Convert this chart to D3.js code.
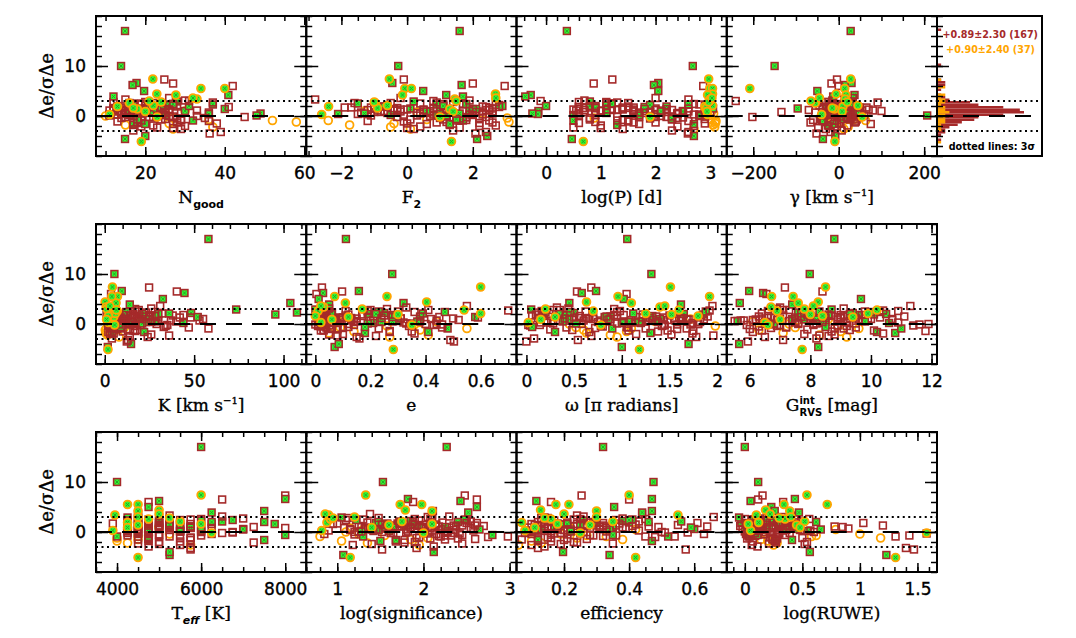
<!DOCTYPE html>
<html><head><meta charset="utf-8">
<script src="https://cdn.jsdelivr.net/npm/d3@7"></script>
<style>body{margin:0;background:#fff}svg{display:block}text{white-space:pre}</style>
</head><body>
<svg id="c" width="1076" height="638"></svg>
<script>
// ---------------- DATA ----------------
// Star order: 18 outliers | 96 sample-A (brown) cluster | 24 sample-B (orange) cluster | 36 more sample-A cluster
const yOutliers = [17.0,10.0,7.4,7.3,6.5,6.6,6.2,6.0,5.5,5.5,5.0,4.4,4.2,4.2,-4.6,-4.0,-5.1,-3.5];
const sampleOutliers = ["A","A","B","A","A","A","A","A","B","B","A","B","B","A","A","A","B","A"];
const flagOutliers = [1,1,1,0,0,1,1,0,1,1,1,1,1,1,1,1,1,0];
const yBrown = [1.2,0.5,-0.3,1.8,0.9,2.4,-1.1,0.2,1.5,0.7,
 -0.6,2.9,1.1,0.4,-1.8,1.6,0.0,2.2,0.8,-0.9,
 1.3,3.3,0.6,-0.2,1.9,-2.4,1.0,0.3,2.6,-1.4,
 0.9,1.4,-0.5,2.0,0.1,1.7,-2.9,0.6,1.2,3.6,
 -0.8,0.4,2.3,1.0,-1.2,0.8,1.5,-0.1,2.8,0.5,
 -2.1,1.1,0.2,1.9,-0.4,0.7,2.5,-1.6,1.3,0.0,
 3.0,0.9,-0.7,1.6,0.3,-2.6,1.2,2.1,-0.3,0.8,
 1.4,-1.0,0.5,2.7,-0.2,1.8,0.1,-1.5,1.0,3.9,
 0.6,-0.9,1.7,0.4,2.4,-2.0,1.1,0.7,-0.6,1.5,
 0.2,2.0,-1.3,0.9,1.3,-3.2];
const flagBrownIdx = [3,7,11,14,17,19,24,26,30,33,37,41,42,46,49,52,56,57,63,67,70,72,76,79,84,88,91,93];
const yOrange = [0.3,-1.8,1.9,-0.9,2.6,0.8,-2.2,1.4,3.4,-0.4,
 0.0,2.1,-1.2,1.0,3.0,-2.6,0.5,1.6,-0.7,2.8,
 -1.5,0.9,3.6,-0.2];
const flagOrangeIdx = [0,2,4,7,8,11,14,17,19,21,22,23];
const yBrown2 = [0.7,1.9,-0.4,1.2,2.3,0.1,-1.3,1.6,0.9,2.8,
 -0.7,1.4,0.4,2.1,-1.9,1.0,0.6,3.1,-0.1,1.7,
 0.3,2.5,-2.3,1.1,0.8,1.5,-0.9,2.0,0.5,1.3,
 -0.2,2.6,0.0,1.8,-1.6,1.2];

const xNgood = [14.9,13.9,21.9,24.8,27.0,17.8,16.8,42.0,34.0,40.0,19.7,22.9,27.7,40.9,14.9,20.0,19.0,36.2,
 12,15,18,21,24,27,13,16,19,22, 25,28,11,14,17,20,23,26,29,32, 12,15,18,21,24,27,30,13,16,19, 22,25,28,31,11,14,17,20,23,26,
 29,36,37,15,18,21,24,27,12,16, 19,22,25,28,35,14,17,20,23,26, 31,13,18,21,24,29,15,17,22,25, 40,36,49,37,45,41,48,38,14,12,
 16,19,21,23,27,30,33,36,18,20, 24,13,17,22,26,39,
 11,15,13,52,16,25,37,18,33,27, 10,22,58,30,21,27,14,17,36,24, 26,20,32,23,
 17,21,14,26,19,23,28,12,16,20, 24,18,15,27,22,13,25,30,17,21, 11,19,23,16,26,14,29,20,18,24, 15,22,33,13,27,19];
const xF2 = [1.6,-0.27,-0.54,-0.1,2.0,-0.45,1.66,2.97,-0.07,0.13,0.49,2.69,-0.14,1.19,2.13,2.44,1.35,2.08,
 -1.2,0.4,1.8,-0.6,2.3,1.1,-0.1,0.9,2.6,-1.4, 1.5,0.2,-0.9,2.0,1.3,-0.3,0.7,2.8,-1.0,1.7, 0.5,-2.8,1.2,2.4,-0.7,0.0,1.9,0.8,-1.6,2.2,
 1.0,-0.4,1.6,2.9,0.3,-1.1,1.4,0.6,2.5,-0.2, 1.8,-2.1,0.9,2.1,1.2,-0.8,0.1,1.5,2.7,-1.3, 0.4,1.7,-0.5,2.3,1.0,0.6,-1.5,1.3,2.0,-0.1,
 0.8,2.6,1.1,-0.9,1.9,0.2,2.4,-0.6,1.4,0.5, 2.1,-1.2,1.6,0.9,-0.3,2.8,1.2,0.0,-0.7,1.7, 0.3,2.5,-1.7,1.0,1.8,2.2,-0.4,0.7,1.5,-1.0,
 2.0,1.1,2.6,0.6,-0.2,2.4,
 -2.6,-1.75,-2.39,-2.4,-0.97,0.3,-0.5,1.3,1.45,3.05, 1.1,-0.6,3.1,-1.3,1.5,0.1,2.3,-0.9,0.6,-1.0, -0.4,1.4,2.7,1.0,
 1.3,-0.8,2.2,0.5,1.7,-1.1,0.9,2.5,-0.2,1.4, 0.1,2.0,-1.5,1.1,2.7,0.7,-0.6,1.9,1.2,-1.9, 2.3,0.4,1.6,-0.3,2.1,0.8,1.5,-1.0,2.6,0.0, 1.8,-0.5,1.0,2.4,0.6,1.3];
const xLogP = [0.38,2.68,2.97,1.21,0.87,2.05,1.97,2.87,2.99,3.04,2.05,3.04,2.95,-0.28,0.47,2.70,0.68,2.59,
 1.2,0.6,2.3,1.8,0.9,2.7,1.5,0.5,2.0,1.1, 2.9,0.8,1.6,2.4,1.3,0.7,2.1,1.9,3.0,0.5, 1.4,2.6,0.9,1.7,2.2,1.0,-0.14,2.8,1.5,0.6,
 2.5,1.2,1.9,0.8,2.9,1.6,2.3,1.1,0.7,2.0, 1.4,-0.15,2.6,1.8,0.9,2.2,3.05,1.3,0.6,1.7, 2.4,1.0,2.8,1.5,0.8,2.1,1.2,2.7,0.5,1.9,
 -0.1,1.6,2.3,0.9,2.9,1.4,2.0,1.1,2.5,0.7, 1.8,2.6,-0.25,1.3,2.2,0.6,1.7,2.9,1.0,-0.38, 2.4,1.5,0.8,2.0,1.2,2.7,0.55,1.9,2.3,1.4,
 0.9,0.0,1.6,2.1,1.1,2.6,
 2.95,3.05,2.9,3.1,2.98,3.02,3.08,2.92,3.0,0.88, 2.96,3.04,3.1,2.9,2.99,2.7,3.06,2.93,3.01,2.97, 3.09,2.94,3.03,1.9,
 1.7,0.9,2.4,1.3,2.8,0.6,2.0,1.5,2.6,1.1, 0.8,2.2,1.6,2.9,1.0,2.5,1.8,0.7,2.3,1.4, 2.7,1.2,0.5,2.1,1.9,2.6,1.3,0.9,2.4,1.6, 2.0,1.1,2.8,0.6,1.7,2.3];
const xGamma = [28,-150,28,-4,-17,30,14,0,-208,14,-50,-6,17,37,-37,-8,-9,-52,
 -12,8,25,-30,15,-5,40,-20,3,18, -42,30,-8,12,-25,50,0,-15,22,-35, 10,-2,35,-202,5,-48,20,-10,28,-3,
 45,-28,14,-6,60,-38,7,24,-14,33, -60,2,-22,16,-9,38,-96,26,-32,11, -4,55,-17,19,4,-18,31,-11,70,-1,
 -241,-26,42,-7,13,-30,23,-16,36,-134, 6,-37,17,91,27,-21,207,1,100,-13, 21,-40,65,8,29,-24,80,-55,12,-6,
 34,18,-66,44,3,-19,
 -40,-20,10,63,-55,5,22,-10,15,30, -30,45,-5,25,-65,12,0,-15,35,20, -25,8,-45,55,
 5,-18,22,-7,12,-33,38,-2,17,-24, 27,-11,8,-45,20,-5,33,-15,2,48, -28,14,-9,25,-38,10,-20,42,0,-13, 19,-50,30,-3,75,-70];
const xK = [58,5.4,4.3,24.8,40.3,9.5,44.6,3.5,7.1,4.0,32.5,0.2,6.3,103.8,1.7,14.7,1.8,12.3,
 8,15,3,22,11,28,5,18,2,13, 33,73.5,20,10,4,25,16,48.3,30,9, 12,6,19,35,95.4,14,24,8,2,17,
 27,10,5,21,13,38,4,15,9,31, 6,23,107.5,11,18,7,29,14,3,20, 26,9,44,1,34,53,5,22,42,8,
 17,3,47,13,6,24,11,36,2,19, 52,7,28,15,4,44,21,10,55,14, 5,58,8,26,12,3,18,37,9,23,
 6,30,16,4,48,13,
 2,0.5,4,1,7,3,1.5,5,0.8,9, 2.5,6,0.3,3.5,1.2,8,4.5,2,11,6.5, 3,1,2.8,5.5,
 10,4,17,7,23,2,13,28,6,19, 9,3,15,32,5,21,11,26,8,14, 4,18,36,7,12,25,3,16,40,9, 20,6,29,11,2,15];
const xEcc = [0.111,0.279,0.60,0.024,0.097,0.158,0.028,0.004,0.07,0.26,0.012,0.404,0.109,0.32,0.07,0.085,0.283,0.503,
 0.02,0.15,0.05,0.28,0.01,0.36,0.08,0.21,0.03,0.44, 0.12,0.00,0.31,0.06,0.18,0.04,0.40,0.25,0.02,0.48,
 0.09,0.33,0.01,0.14,0.05,0.22,0.38,0.03,0.11,0.27, 0.07,0.45,0.02,0.19,0.35,0.04,0.16,0.30,0.01,0.55,
 0.10,0.24,0.06,0.42,0.03,0.13,0.29,0.00,0.20,0.37, 0.05,0.50,0.08,0.17,0.34,0.02,0.23,0.41,0.04,0.12,
 0.26,0.07,0.46,0.01,0.32,0.15,0.09,0.39,0.03,0.21, 0.58,0.06,0.28,0.70,0.43,0.02,0.19,0.35,0.05,0.05,
 0.14,0.08,0.25,0.01,0.47,0.10,0.31,0.04,0.18,0.38, 0.06,0.22,0.03,0.13,0.59,0.49,
 0.02,0.05,0.30,0.55,0.01,0.08,0.41,0.12,0.03,0.26, 0.04,0.60,0.38,0.07,0.17,0.27,0.44,0.00,0.09,0.54, 0.14,0.06,0.02,0.35,
 0.03,0.12,0.01,0.24,0.06,0.33,0.02,0.17,0.09,0.41, 0.04,0.28,0.14,0.01,0.36,0.07,0.20,0.05,0.46,0.11, 0.02,0.30,0.08,0.15,0.52,0.03,0.23,0.06,0.38,0.10, 0.01,0.19,0.44,0.04,0.27,0.13];
const xOmega = [1.057,1.31,1.51,0.68,0.53,0.73,0.58,1.05,0.96,1.92,1.02,0.63,1.10,0.45,1.0,1.70,1.185,0.0,
 0.12,0.85,1.45,0.40,1.70,0.95,0.25,1.20,1.90,0.60, 1.05,0.05,1.55,0.75,1.30,0.18,1.80,0.50,1.10,0.90,
 1.60,0.32,1.25,0.02,1.85,0.68,1.40,0.15,0.98,1.75, 0.45,1.15,0.80,1.65,0.28,1.50,0.08,1.35,0.55,1.95,
 0.72,1.08,0.20,1.62,0.48,1.28,0.88,1.72,0.35,1.18, 1.52,0.62,1.00,0.10,1.42,0.78,1.88,0.30,1.22,0.58,
 0.92,1.68,0.42,1.32,0.22,1.78,0.65,1.12,0.04,1.48, 0.82,1.58,0.38,1.92,0.14,1.02,0.52,1.38,0.70,1.62,
 0.26,1.25,0.95,1.82,0.46,1.15,0.66,1.56,0.06,1.36, 1.74,0.34,1.07,0.86,1.44,0.54,
 0.02,0.63,1.52,1.10,0.70,1.62,0.88,0.30,1.40,1.98, 0.45,1.25,0.60,1.72,0.20,0.95,1.35,1.80,0.52,1.60, 1.05,0.15,1.45,0.78,
 0.35,1.22,0.78,1.64,0.12,0.95,1.48,0.56,1.86,0.28, 1.06,0.70,1.38,0.18,1.74,0.88,1.26,0.44,1.58,0.06, 1.14,0.62,1.96,0.40,1.32,0.84,1.68,0.24,1.02,0.50, 1.44,0.16,1.80,0.92,0.66,1.30];
const xGrvs = [8.79,7.98,8.5,7.16,8.4,5.98,6.44,6.55,7.43,6.72,9.67,8.26,7.6,5.67,8.26,5.65,7.73,5.94,
 6.8,7.5,8.9,9.6,6.2,10.3,7.9,8.4,9.1,5.7, 7.2,8.7,9.9,6.5,10.8,7.7,8.1,9.4,6.9,11.0,
 8.3,7.0,9.7,5.9,10.1,8.6,7.4,9.2,6.6,11.8, 7.8,8.9,6.3,10.5,9.5,7.1,8.2,5.6,9.0,11.3,
 6.7,8.5,7.6,10.0,9.3,6.1,8.0,11.6,7.3,9.8, 8.8,6.4,10.6,7.9,9.2,5.8,8.3,10.2,7.5,11.9,
 6.9,9.6,7.2,8.6,10.9,6.5,9.0,7.7,11.4,8.1, 9.4,6.0,8.4,10.4,7.0,9.7,6.8,8.7,10.7,7.4,
 5.5,9.1,8.0,6.6,10.0,7.8,9.5,6.2,8.5,11.1, 7.6,9.3,6.4,8.2,10.3,7.1,
 6.5,7.1,8.0,9.6,6.9,7.6,8.3,9.4,6.7,8.9, 7.3,9.9,6.3,8.6,7.8,9.2,6.1,8.4,7.5,10.2, 9.0,7.0,8.1,6.6,
 7.4,8.6,6.9,9.3,7.8,8.2,10.1,6.6,8.9,7.1, 9.5,7.7,8.4,6.4,10.4,8.0,7.3,9.1,6.8,8.7, 7.5,9.8,8.3,7.0,10.7,6.3,8.8,7.9,9.2,6.7, 8.1,10.9,7.6,9.0,6.1,8.5];
const xTeff = [6000,4000,6000,8000,6500,8000,5000,4750,4250,4500,4750,5000,4500,7500,5250,5250,4500,5750,
 4250,4500,4750,5000,5250,5500,5750,6000,4500,4750, 5000,4250,5250,5500,4750,6250,4500,5000,5750,4000,
 4250,5250,4750,6500,4500,5000,5500,4250,6000,4750, 5750,4500,5000,6250,4250,5250,4750,7000,5500,4500,
 5000,4750,6000,4250,5750,5250,4500,6750,5000,4750, 7250,4250,5500,4500,6250,5000,4750,7500,5250,6000,
 4500,5750,4250,7750,4750,5500,5000,6500,4500,8000, 5250,4750,6000,7000,4250,5000,5500,4500,7250,6250,
 4750,5250,3900,4500,6750,5000,5750,4250,8000,5500, 4500,7500,4750,6000,5250,5750,
 3900,4000,4250,4500,4750,5000,4250,4500,3950,5250, 4750,5500,4000,5000,4500,5750,4250,6000,4750,5250, 4500,4250,5000,6250,
 4750,5000,4500,5250,4250,5500,4750,5750,5000,4500, 6000,4250,5250,4750,5500,4500,5000,6500,4750,5250, 4250,5750,4500,5000,6250,4750,5500,4250,7000,5000, 4500,5250,6750,4750,5750,4500];
const xLogSig = [2.27,1.53,1.33,2.48,2.62,1.82,2.43,1.88,1.73,1.98,2.62,1.79,2.10,2.11,1.07,2.12,1.15,1.52,
 1.25,1.80,2.05,1.45,2.30,1.10,1.95,1.60,2.15,1.35, 2.45,1.05,1.70,2.20,1.50,0.95,2.00,1.85,2.55,1.30,
 1.65,2.10,1.15,2.35,1.75,1.40,2.25,0.90,1.90,2.60, 1.55,2.02,1.20,2.40,1.82,1.00,2.12,1.62,2.70,1.38,
 2.18,1.48,2.50,1.28,1.92,2.08,1.58,2.28,1.12,2.65, 1.78,2.38,1.42,2.22,0.85,1.98,2.48,1.68,2.60,1.52,
 2.05,1.32,2.32,1.88,2.58,1.18,2.14,1.72,2.42,1.08, 1.95,2.75,1.45,2.10,1.62,2.62,1.28,2.25,1.85,2.52,
 1.38,2.98,1.70,2.35,1.22,1.90,2.18,1.55,2.80,1.78, 2.28,1.48,2.08,1.65,2.45,1.92,
 0.82,1.05,0.88,0.80,0.92,1.15,1.35,1.60,0.90,1.25, 1.10,1.75,2.05,1.45,1.20,1.95,1.30,2.10,1.55,0.95, 1.85,1.40,0.86,2.00,
 1.85,1.35,2.15,1.60,1.95,1.25,2.40,1.72,2.05,1.48, 2.25,1.90,1.15,2.55,1.68,2.00,1.42,2.30,1.80,1.58, 2.10,1.30,2.45,1.75,1.98,1.52,2.20,1.88,1.40,2.35, 1.65,2.08,1.20,2.50,1.78,1.95];
const xEff = [0.32,0.475,0.40,0.254,0.40,0.47,0.115,0.16,0.215,0.175,0.354,0.128,0.30,0.47,0.34,0.197,0.42,0.574,
 0.12,0.18,0.25,0.30,0.09,0.36,0.15,0.22,0.42,0.11, 0.28,0.14,0.33,0.20,0.47,0.10,0.26,0.38,0.16,0.52,
 0.13,0.24,0.31,0.08,0.40,0.19,0.35,0.12,0.45,0.27, 0.17,0.55,0.21,0.29,0.10,0.37,0.14,0.60,0.23,0.44,
 0.32,0.11,0.26,0.49,0.16,0.39,0.20,0.58,0.13,0.34, 0.24,0.46,0.09,0.28,0.63,0.18,0.41,0.12,0.30,0.50,
 0.66,0.15,0.36,0.21,0.43,0.10,0.27,0.56,0.17,0.33, 0.25,0.48,0.13,0.38,0.19,0.61,0.22,0.07,0.31,0.44,
 0.16,0.54,0.29,0.11,0.40,0.23,0.64,0.18,0.35,0.26, 0.14,0.46,0.21,0.59,0.32,0.12,
 0.08,0.10,0.07,0.33,0.16,0.22,0.13,0.28,0.55,0.19, 0.09,0.35,0.24,0.12,0.30,0.06,0.42,0.18,0.27,0.14, 0.38,0.11,0.20,0.25,
 0.14,0.21,0.10,0.27,0.17,0.33,0.12,0.24,0.38,0.15, 0.29,0.11,0.20,0.43,0.16,0.31,0.13,0.26,0.51,0.18, 0.09,0.23,0.35,0.14,0.28,0.19,0.45,0.12,0.22,0.36, 0.16,0.25,0.10,0.32,0.20,0.41];
const xLogRuwe = [0.0,0.116,0.54,0.154,0.116,0.435,0.05,0.333,0.34,0.716,0.23,0.18,0.39,0.26,1.23,0.565,1.31,1.47,
 0.02,0.15,0.30,-0.03,0.42,0.08,0.22,0.55,0.05,0.18, 0.35,-0.05,0.12,0.48,0.26,0.01,0.60,0.10,0.38,0.04,
 0.20,0.45,-0.02,0.28,0.07,0.52,0.14,0.33,0.00,0.24, 0.40,0.06,0.17,0.62,0.03,0.31,0.11,0.46,-0.04,0.21,
 0.09,0.36,0.25,0.01,0.50,0.13,0.29,0.05,0.43,0.19, 0.27,0.78,0.04,0.34,0.16,0.90,0.08,0.41,1.20,0.23,
 0.32,0.02,1.43,0.14,0.57,0.06,0.37,0.10,1.58,0.20, 0.05,0.28,0.66,0.12,0.39,1.03,0.00,0.24,0.85,0.47,
 0.15,1.31,0.07,0.33,0.18,0.54,0.03,0.26,0.11,0.44, 0.09,0.30,0.02,0.21,0.13,1.40,
 0.05,0.20,0.12,0.58,0.35,0.02,0.28,0.45,0.10,1.00, 0.16,0.52,1.18,0.08,0.40,0.25,0.79,0.03,0.62,0.30, 0.14,0.48,0.22,1.58,
 0.08,0.22,0.01,0.35,0.14,0.05,0.28,0.44,0.10,0.19, 0.03,0.31,0.12,0.50,0.07,0.25,0.16,0.40,0.02,0.33, 0.11,0.06,0.21,0.47,0.15,0.29,0.04,0.38,0.13,0.24, 0.09,0.56,0.18,0.01,0.27,0.36];

// tick labels
const ticksNgood=[20,40,60], ticksF2=[-2,0,2], ticksLogP=[0,1,2,3], ticksGamma=[-200,0,200];
const ticksK=[0,50,100], ticksEcc=[0,0.2,0.4,0.6], ticksOmega=[0,0.5,1,1.5,2], ticksGrvs=[6,8,10,12];
const ticksTeff=[4000,6000,8000], ticksLogSig=[1,2,3], ticksEff=[0.2,0.4,0.6], ticksLogRuwe=[0,0.5,1,1.5];
const ticksY=[0,10];
const statsA="+0.89±2.30 (167)", statsB="+0.90±2.40 (37)", noteText="dotted lines: 3σ";

// ---------------- BUILD ----------------
const yAll = yOutliers.concat(yBrown, yOrange, yBrown2);
const sample = sampleOutliers.concat(yBrown.map(()=>"A"), yOrange.map(()=>"B"), yBrown2.map(()=>"A"));
const flag = flagOutliers.concat(yBrown.map((d,i)=>flagBrownIdx.includes(i)?1:0), yOrange.map((d,i)=>flagOrangeIdx.includes(i)?1:0), yBrown2.map(()=>0));

const BROWN="#a52a2a", ORANGE="#ffa500", GREEN="#33f533", XCOL="#22a022";
const colX=[96,306.25,516.5,726.75,937], pw=210.25, ph=140, rowY=[16,224,432];
const svg=d3.select("#c");
const fmt=d=>(d<0?"\u2212":"")+Math.abs(d);
function minorVals(dom,step){const a=[];for(let v=Math.ceil(dom[0]/step-1e-9)*step;v<=dom[1]+1e-9;v+=step)a.push(+v.toFixed(6));return a;}

const panels=[
 {r:0,c:0,x:xNgood,dom:[7.6,60.5],maj:ticksNgood,minor:5,title:[{t:"N"},{t:"good",fs:11,dy:5,fw:"bold",ff:"DejaVu Sans"}]},
 {r:0,c:1,x:xF2,dom:[-3.07,3.33],maj:ticksF2,minor:0.5,title:[{t:"F"},{t:"2",fs:11,dy:5,fw:"bold",ff:"DejaVu Sans"}]},
 {r:0,c:2,x:xLogP,dom:[-0.54,3.30],maj:ticksLogP,minor:0.2,title:[{t:"log(P) [d]"}]},
 {r:0,c:3,x:xGamma,dom:[-262,230],maj:ticksGamma,minor:50,title:[{t:"\u03b3 [km s"},{t:"\u22121",fs:10,dy:-7},{t:"]"}]},
 {r:1,c:0,x:xK,dom:[-4.9,112.7],maj:ticksK,minor:10,title:[{t:"K [km s"},{t:"\u22121",fs:10,dy:-7},{t:"]"}]},
 {r:1,c:1,x:xEcc,dom:[-0.033,0.73],maj:ticksEcc,minor:0.05,title:[{t:"e"}]},
 {r:1,c:2,x:xOmega,dom:[-0.104,2.1],maj:ticksOmega,minor:0.1,title:[{t:"\u03c9 [\u03c0 radians]"}]},
 {r:1,c:3,x:xGrvs,dom:[5.24,12.18],maj:ticksGrvs,minor:0.5,title:[{t:"G"},{t:"int",fs:10,dy:-7,fw:"bold",ff:"DejaVu Sans",stack:true},{t:"RVS",fs:10,dy:5,fw:"bold",ff:"DejaVu Sans"},{t:" [mag]"}]},
 {r:2,c:0,x:xTeff,dom:[3500,8500],maj:ticksTeff,minor:500,title:[{t:"T"},{t:"eff",fs:11,dy:5,fw:"bold",fst:"italic",ff:"DejaVu Sans"},{t:" [K]"}]},
 {r:2,c:1,x:xLogSig,dom:[0.64,3.08],maj:ticksLogSig,minor:0.2,title:[{t:"log(significance)"}]},
 {r:2,c:2,x:xEff,dom:[0.054,0.70],maj:ticksEff,minor:0.05,title:[{t:"efficiency"}]},
 {r:2,c:3,x:xLogRuwe,dom:[-0.157,1.67],maj:ticksLogRuwe,minor:0.1,title:[{t:"log(RUWE)"}]}
];

function styleAxis(sel){sel.select(".domain").remove();sel.selectAll(".tick line").attr("stroke","#000").attr("stroke-width",1.5);
 sel.selectAll(".tick text").attr("font-family","DejaVu Sans").attr("font-size",17).attr("fill","#000").attr("stroke","#000").attr("stroke-width",0.35);}

function drawTitle(cx,base,parts){
 const g=svg.append("g");let xp=0,stackW=null;
 parts.forEach(p=>{
  const t=g.append("text").attr("x",xp).attr("y",base+(p.dy||0)).text(p.t)
   .attr("font-family",p.ff||"DejaVu Serif").attr("font-size",p.fs||17)
   .attr("font-weight",p.fw||"normal").attr("font-style",p.fst||"normal")
   .attr("stroke","#000").attr("stroke-width",p.fw?0:0.35);
  const w=t.node().getComputedTextLength();
  if(p.stack){stackW=w;}else{xp+=Math.max(w,stackW||0);stackW=null;}
 });
 g.attr("transform",`translate(${cx-xp/2},0)`);
}

function refLines(g,x0,x1,y){
 g.append("line").attr("x1",x0).attr("x2",x1).attr("y1",y(0)).attr("y2",y(0)).attr("stroke","#000").attr("stroke-width",2).attr("stroke-dasharray","16,10");
 [3,-3].forEach(v=>g.append("line").attr("x1",x0).attr("x2",x1).attr("y1",y(v)).attr("y2",y(v)).attr("stroke","#000").attr("stroke-width",2).attr("stroke-dasharray","2,3.5"));
}

function yAxes(g,x0,x1,y,labels){
 const minY=minorVals([-8,20],2);
 const L=g.append("g").attr("transform",`translate(${x0},0)`).call(d3.axisLeft(y).tickValues(minY).tickSize(-6).tickSizeOuter(0).tickFormat(""));styleAxis(L);
 const LM=g.append("g").attr("transform",`translate(${x0},0)`).call(d3.axisLeft(y).tickValues(ticksY).tickSize(-12).tickSizeOuter(0).tickPadding(10).tickFormat(labels?fmt:""));styleAxis(LM);
 LM.selectAll(".tick text").attr("x",-10);
 const R=g.append("g").attr("transform",`translate(${x1},0)`).call(d3.axisRight(y).tickValues(minY).tickSize(-6).tickSizeOuter(0).tickFormat(""));styleAxis(R);
 const RM=g.append("g").attr("transform",`translate(${x1},0)`).call(d3.axisRight(y).tickValues(ticksY).tickSize(-12).tickSizeOuter(0).tickFormat(""));styleAxis(RM);
}

const idx=d3.range(yAll.length);
// plain orange circles behind, brown squares, then flagged orange on top
const order=idx.filter(i=>sample[i]==="B"&&!flag[i]).concat(idx.filter(i=>sample[i]==="A"),idx.filter(i=>sample[i]==="B"&&flag[i]));

panels.forEach((p,pi)=>{
 const x0=colX[p.c], y0=rowY[p.r];
 const x=d3.scaleLinear().domain(p.dom).range([x0,x0+pw]);
 const y=d3.scaleLinear().domain([-8,20]).range([y0+ph,y0]);
 const g=svg.append("g");
 const cid="clip"+pi;
 svg.append("clipPath").attr("id",cid).append("rect").attr("x",x0).attr("y",y0).attr("width",pw).attr("height",ph);
 const m=g.append("g").attr("clip-path",`url(#${cid})`);
 order.forEach(i=>{
  const cx=x(p.x[i]), cy=y(yAll[i]);
  if(sample[i]==="A"){
   m.append("rect").attr("x",cx-3.4).attr("y",cy-3.4).attr("width",6.8).attr("height",6.8)
    .attr("fill",flag[i]?GREEN:"none").attr("stroke",BROWN).attr("stroke-width",1.6);
  }else{
   m.append("circle").attr("cx",cx).attr("cy",cy).attr("r",3.9)
    .attr("fill",flag[i]?GREEN:"none").attr("stroke",ORANGE).attr("stroke-width",1.8);
  }
  if(flag[i]){
   m.append("path").attr("d",`M${cx-1.7},${cy-1.7}L${cx+1.7},${cy+1.7}M${cx-1.7},${cy+1.7}L${cx+1.7},${cy-1.7}`)
    .attr("stroke",XCOL).attr("stroke-width",0.9);
  }
 });
 refLines(m,x0,x0+pw,y);
 const minX=minorVals(p.dom,p.minor);
 const B=g.append("g").attr("transform",`translate(0,${y0+ph})`).call(d3.axisBottom(x).tickValues(minX).tickSize(-5).tickSizeOuter(0).tickFormat(""));styleAxis(B);
 const BM=g.append("g").attr("transform",`translate(0,${y0+ph})`).call(d3.axisBottom(x).tickValues(p.maj).tickSize(-9).tickSizeOuter(0).tickPadding(11).tickFormat(fmt));styleAxis(BM);
 const T=g.append("g").attr("transform",`translate(0,${y0})`).call(d3.axisTop(x).tickValues(minX).tickSize(-5).tickSizeOuter(0).tickFormat(""));styleAxis(T);
 const TM=g.append("g").attr("transform",`translate(0,${y0})`).call(d3.axisTop(x).tickValues(p.maj).tickSize(-9).tickSizeOuter(0).tickFormat(""));styleAxis(TM);
 yAxes(g,x0,x0+pw,y,p.c===0);
 g.append("rect").attr("x",x0).attr("y",y0).attr("width",pw).attr("height",ph).attr("fill","none").attr("stroke","#000").attr("stroke-width",2);
 drawTitle(x0+pw/2,y0+ph+47,p.title);
});

// y titles
rowY.forEach(t=>{
 svg.append("text").attr("transform",`translate(53,${t+ph/2}) rotate(-90)`).attr("text-anchor","middle")
  .attr("font-family","DejaVu Serif").attr("font-size",18).attr("stroke","#000").attr("stroke-width",0.4).text("\u0394e/\u03c3\u0394e");
});

// histogram panel
(function(){
 const x0=937, hw=105, y0=rowY[0];
 const y=d3.scaleLinear().domain([-8,20]).range([y0+ph,y0]);
 const bin=d3.bin().domain([-8,20]).thresholds(d3.range(-8,20,0.5));
 const bA=bin(yAll.filter((d,i)=>sample[i]==="A"));
 const bB=bin(yAll.filter((d,i)=>sample[i]==="B"));
 const maxC=d3.max(bA,d=>d.length);
 const xh=d3.scaleLinear().domain([0,maxC]).range([x0,x0+87]);
 const g=svg.append("g");
 g.selectAll(".ha").data(bA.filter(d=>d.length)).join("rect").attr("x",x0).attr("y",d=>y(d.x1)).attr("height",d=>y(d.x0)-y(d.x1))
  .attr("width",d=>xh(d.length)-x0).attr("fill",BROWN);
 g.selectAll(".hb").data(bB.filter(d=>d.length)).join("rect").attr("x",x0).attr("y",d=>y(d.x1)).attr("height",d=>y(d.x0)-y(d.x1))
  .attr("width",d=>xh(d.length)-x0).attr("fill",ORANGE);
 refLines(g,x0,x0+hw,y);
 const minY=minorVals([-8,20],2);
 const L=g.append("g").attr("transform",`translate(${x0},0)`).call(d3.axisLeft(y).tickValues(minY).tickSize(-6).tickSizeOuter(0).tickFormat(""));styleAxis(L);
 const LM=g.append("g").attr("transform",`translate(${x0},0)`).call(d3.axisLeft(y).tickValues(ticksY).tickSize(-12).tickSizeOuter(0).tickFormat(""));styleAxis(LM);
 g.append("rect").attr("x",x0).attr("y",y0).attr("width",hw).attr("height",ph).attr("fill","none").attr("stroke","#000").attr("stroke-width",2);
 const fs=9.6;
 g.append("text").attr("x",1038).attr("y",38).attr("text-anchor","end").attr("font-family","DejaVu Sans").attr("font-weight","bold").attr("font-size",fs).attr("fill",BROWN).text(statsA);
 g.append("text").attr("x",1035).attr("y",53).attr("text-anchor","end").attr("font-family","DejaVu Sans").attr("font-weight","bold").attr("font-size",fs).attr("fill",ORANGE).text(statsB);
 g.append("text").attr("x",1035).attr("y",150).attr("text-anchor","end").attr("font-family","DejaVu Sans").attr("font-weight","bold").attr("font-size",fs).attr("fill","#000").text(noteText);
})();
</script>
</body></html>
